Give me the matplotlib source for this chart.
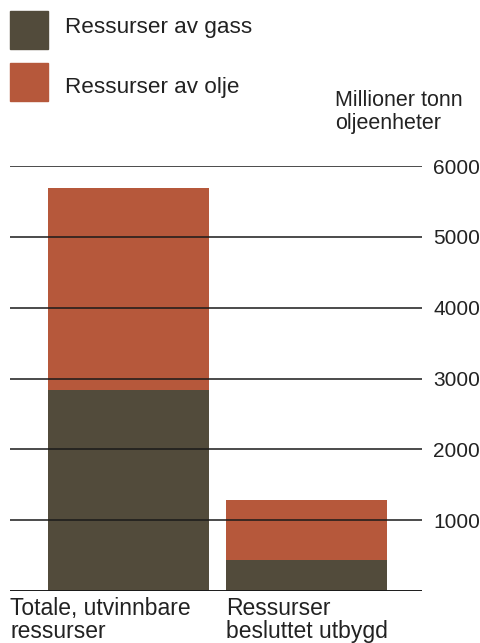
import matplotlib
matplotlib.use("Agg")
import matplotlib.pyplot as plt
from matplotlib.patches import Rectangle

plt.rcParams['font.family'] = ['Liberation Sans', 'DejaVu Sans']

# data (millioner tonn oljeenheter)
categories = ['Totale, utvinnbare\nressurser', 'Ressurser\nbesluttet utbygd']
gass = [2840, 440]
olje = [2850, 845]
ticks = [1000, 2000, 3000, 4000, 5000, 6000]

gass_col = '#524b3b'
olje_col = '#b6583b'
txt_col = '#222222'

W, H = 480, 643
fig = plt.figure(figsize=(W / 100, H / 100), dpi=100)
ax = fig.add_axes([10 / W, (H - 591) / H, 412 / W, (591 - 166) / H])

x = [0, 1]
ax.bar(x, gass, width=0.905, color=gass_col, zorder=1)
ax.bar(x, olje, bottom=gass, width=0.905, color=olje_col, zorder=1)

for t in ticks:
    ax.axhline(t, color='#1a1a1a', lw=1.1, zorder=3)
ax.axhline(0, color='#1a1a1a', lw=1.4, zorder=3)

ax.set_xlim(-0.666, 1.649)
ax.set_ylim(0, 6000)
ax.set_xticks([])
ax.yaxis.tick_right()
ax.set_yticks(ticks)
ax.set_yticklabels([str(t) for t in ticks], fontsize=15, color=txt_col)
ax.tick_params(axis='y', length=0, pad=8)
for s in ax.spines.values():
    s.set_visible(False)
ax.patch.set_visible(False)


def line_text(px, py, s, size):
    # py = baseline in pixels from top
    fig.text(px / W, 1 - py / H, s, fontsize=size, va='baseline', ha='left',
             color=txt_col)


# legend keys
legend = [('Ressurser av gass', gass_col, 11, 33), ('Ressurser av olje', olje_col, 63, 93)]
for label, col, top, base in legend:
    fig.patches.append(Rectangle((10 / W, 1 - (top + 38) / H), 38 / W, 38 / H,
                                 transform=fig.transFigure, color=col))
    line_text(65, base, label, 16.2)

line_text(335, 106, 'Millioner tonn', 15.5)
line_text(335, 129, 'oljeenheter', 15.5)

for px, cat in zip([10, 226], categories):
    for i, ln in enumerate(cat.split('\n')):
        line_text(px, 615 + 23 * i, ln, 16.5)

fig.savefig('out.png', dpi=100)
